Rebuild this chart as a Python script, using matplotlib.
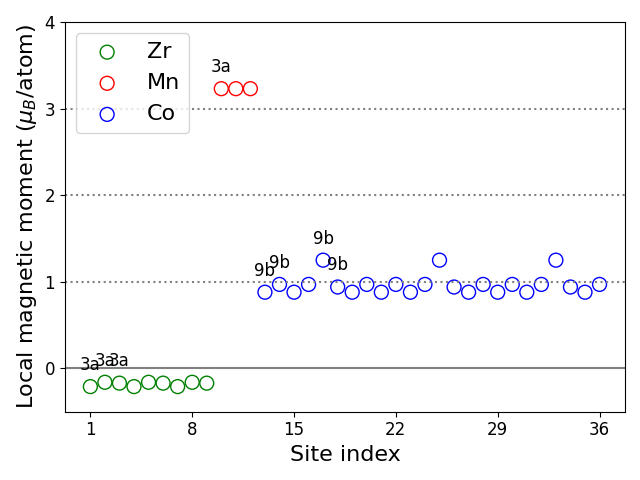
import matplotlib
matplotlib.use("Agg")
import matplotlib.pyplot as plt

# ── Data ─────────────────────────────────────────────────────────────────────

zr_sites = [1, 2, 3, 4, 5, 6, 7, 8, 9]
zr_moments = [-0.21, -0.16, -0.17, -0.21, -0.16, -0.17, -0.21, -0.16, -0.17]

mn_sites = [10, 11, 12]
mn_moments = [3.23, 3.23, 3.23]

co_sites = list(range(13, 37))
co_moments = [0.88, 0.97, 0.88, 0.97, 1.25, 0.94, 0.88, 0.97,
              0.88, 0.97, 0.88, 0.97, 1.25, 0.94, 0.88, 0.97,
              0.88, 0.97, 0.88, 0.97, 1.25, 0.94, 0.88, 0.97]

# Wyckoff labels shown above a few sites
label_sites = [1, 2, 3, 10, 13, 14, 17, 18]
label_texts = ["3a", "3a", "3a", "3a", "9b", "9b", "9b", "9b"]

xticks = [1, 8, 15, 22, 29, 36]
yticks = [0, 1, 2, 3, 4]

# ── Plot ─────────────────────────────────────────────────────────────────────

fig, ax = plt.subplots(figsize=(6.4, 4.8), dpi=100)

ax.scatter(zr_sites, zr_moments, s=100, facecolors="none", edgecolors="green", label="Zr")
ax.scatter(mn_sites, mn_moments, s=100, facecolors="none", edgecolors="red", label="Mn")
ax.scatter(co_sites, co_moments, s=100, facecolors="none", edgecolors="blue", label="Co")

all_sites = zr_sites + mn_sites + co_sites
all_moments = zr_moments + mn_moments + co_moments
for site, text in zip(label_sites, label_texts):
    y = all_moments[all_sites.index(site)]
    ax.text(site, y + 0.25, text, ha="center", va="center", fontsize=12)

ax.axhline(0, color="grey", linewidth=1.5)
for level in [1, 2, 3]:
    ax.axhline(level, color="grey", linestyle=":", linewidth=1.5)

ax.set_ylim(-0.5, 4)
ax.set_xticks(xticks)
ax.set_yticks(yticks)
ax.tick_params(labelsize=12)
ax.set_xlabel("Site index", fontsize=16)
ax.set_ylabel(r"Local magnetic moment ($\mu_B$/atom)", fontsize=16)
ax.legend(loc="upper left", fontsize=16)

fig.tight_layout()
fig.savefig("out.png", dpi=100)
